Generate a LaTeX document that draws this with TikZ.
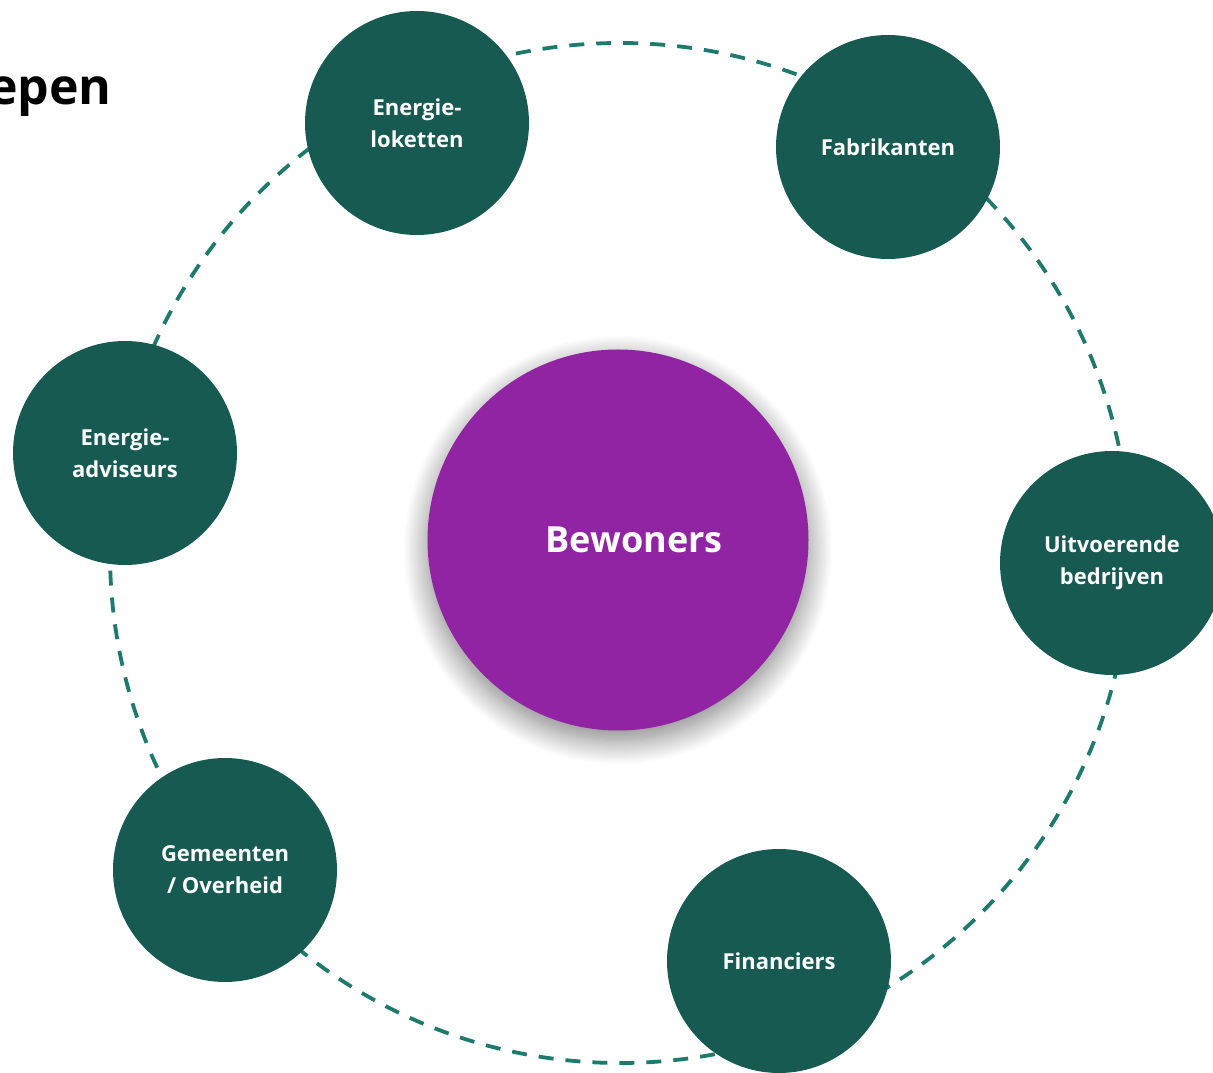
\documentclass[tikz,border=0pt]{standalone}
\usepackage{fontspec}
\setmainfont{Open Sans}
\usetikzlibrary{shadows.blur}
\definecolor{hubpurple}{HTML}{9124A3}
\definecolor{partnergreen}{HTML}{175A52}
\definecolor{ringteal}{HTML}{1F7A6E}
\tikzset{
  partner/.style={circle, fill=partnergreen, minimum size=224pt, inner sep=0pt,
    text=white, align=center, font=\fontsize{22}{32}\selectfont\bfseries},
  hub/.style={circle, fill=hubpurple, minimum size=381pt, inner sep=0pt,
    blur shadow={shadow xshift=0pt, shadow yshift=-10pt, shadow blur radius=24pt,
      shadow blur steps=20, shadow opacity=50}},
  hubtext/.style={text=white, font=\fontsize{36}{40}\selectfont\bfseries},
  ring/.style={ringteal, line width=3.8pt, dash pattern=on 15pt off 12pt},
}
\begin{document}
\begin{tikzpicture}[x=1pt, y=1pt]
    \useasboundingbox (0,0) rectangle (1213,1072);
    % title, cut off at the left edge
    \node[anchor=base east, inner sep=0pt, font=\fontsize{50}{54}\selectfont\bfseries] (title) at (112,967) {epen};
    % ring
    \draw[ring] (620,519) circle (510);
    % hub
    \node[hub] (bewoners) at (618,532) {};
    \node[hubtext] (bewonerslabel) at ([xshift=16pt]bewoners.center) {Bewoners};
    % partners
    \node[partner] (loketten) at (417,949) {Energie-\\loketten};
    \node[partner] (fabrikanten) at (888,925) {Fabrikanten};
    \node[partner] (adviseurs) at (125,619) {Energie-\\adviseurs};
    \node[partner] (uitvoerend) at (1112,509) {Uitvoerende\\bedrijven};
    \node[partner] (gemeenten) at (225,202) {Gemeenten\\/ Overheid};
    \node[partner] (financiers) at (779,111) {Financiers};
\end{tikzpicture}
\end{document}
